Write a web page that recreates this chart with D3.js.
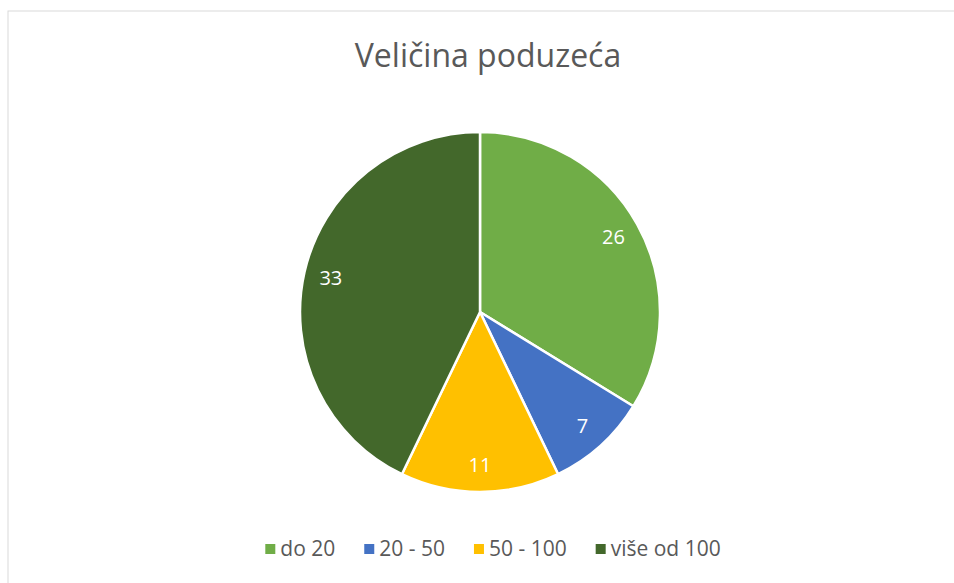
<!DOCTYPE html>
<html>
<head>
<meta charset="utf-8">
<script src="https://cdn.jsdelivr.net/npm/d3@7"></script>
<style>
  body { margin: 0; background: #fff; }
  svg { display: block; font-family: "Open Sans", sans-serif; }
</style>
</head>
<body>
<svg width="954" height="583"></svg>
<script>
// chart data
var categories = ["do 20", "20 - 50", "50 - 100", "više od 100"]
var values = [26, 7, 11, 33]
var colors = ["#70ad47", "#4472c4", "#ffc000", "#43682b"]
var title = "Veličina poduzeća"

var svg = d3.select("svg")

// light frame around the chart area
svg.append("rect")
  .attr("x", 8).attr("y", 11)
  .attr("width", 960).attr("height", 600)
  .attr("fill", "#fff")
  .attr("stroke", "#d9d9d9")
  .attr("stroke-width", 1)

svg.append("text")
  .attr("x", 488).attr("y", 67)
  .attr("text-anchor", "middle")
  .attr("fill", "#595959")
  .style("font-size", "32px")
  .text(title)

var cx = 480, cy = 312, r = 180

var pie = d3.pie().sort(null).value(function(d) { return d })
var arc = d3.arc().innerRadius(0).outerRadius(r)
var labelArc = d3.arc().innerRadius(153).outerRadius(153)

var g = svg.append("g").attr("transform", "translate(" + cx + "," + cy + ")")
var slices = pie(values)

g.selectAll("path")
  .data(slices)
  .enter().append("path")
  .attr("d", arc)
  .attr("fill", function(d, i) { return colors[i] })
  .attr("stroke", "#fff")
  .attr("stroke-width", 2.5)
  .attr("stroke-linejoin", "round")

g.selectAll("text.lbl")
  .data(slices)
  .enter().append("text")
  .attr("class", "lbl")
  .attr("transform", function(d) { return "translate(" + labelArc.centroid(d) + ")" })
  .attr("text-anchor", "middle")
  .attr("dy", "0.35em")
  .attr("fill", "#fff")
  .style("font-size", "20px")
  .text(function(d) { return d.data })

// legend: square + label, items laid out in a row and centred
var legend = svg.append("g")
var items = legend.selectAll("g")
  .data(categories)
  .enter().append("g")

items.append("rect")
  .attr("width", 10).attr("height", 10)
  .attr("y", -5)
  .attr("fill", function(d, i) { return colors[i] })

items.append("text")
  .attr("x", 15)
  .attr("dy", "0.35em")
  .attr("fill", "#595959")
  .style("font-size", "21px")
  .text(function(d) { return d })

var x = 0
items.each(function() {
  var w = d3.select(this).select("text").node().getComputedTextLength()
  d3.select(this).attr("transform", "translate(" + x + ",0)")
  x += 15 + w + 29
})
var total = x - 29
legend.attr("transform", "translate(" + (493 - total / 2) + ",549)")
</script>
</body>
</html>
